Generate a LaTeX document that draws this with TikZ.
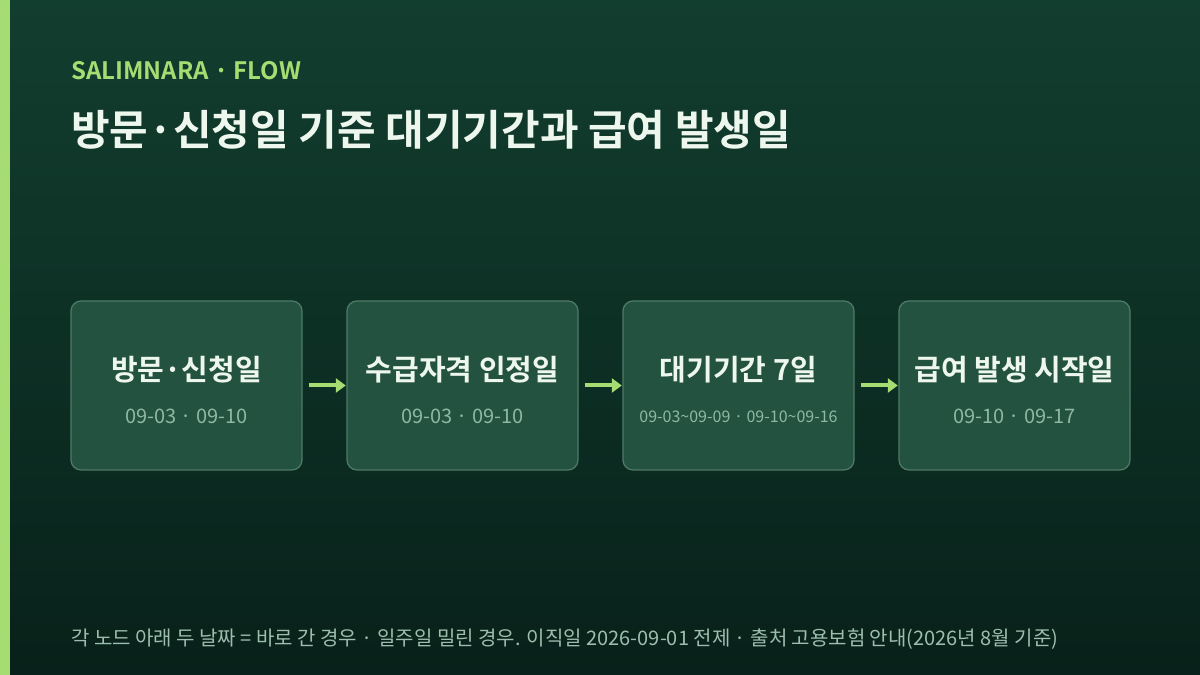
\documentclass[tikz,border=0pt]{standalone}
\usepackage{fontspec}
\usetikzlibrary{positioning,arrows.meta}
\setmainfont{Noto Sans CJK KR}
\newfontfamily\krbold{Noto Sans CJK KR Bold}
\definecolor{SNbgtop}{HTML}{123E2F}
\definecolor{SNbgbot}{HTML}{08211A}
\definecolor{SNlime}{HTML}{A6DD72}
\definecolor{SNbox}{HTML}{245240}
\definecolor{SNedge}{HTML}{4F7B68}
\definecolor{SNwhite}{HTML}{EEF7EE}
\definecolor{SNdate}{HTML}{8FB8A2}
\definecolor{SNnote}{HTML}{9DBEAE}
\newcommand{\boxw}{231}
\newcommand{\boxh}{169}
\newcommand{\tld}{{\char"7E\relax}}
\newcommand{\flowtitle}[2]{%
  \node[boxtitle] (#1t) at ([yshift=15.5]#1.center) {#2};}
\newcommand{\flowdate}[3]{%
  \node[boxdate, font=\fontsize{#3}{#3}\selectfont] (#1d) at ([yshift=-31]#1.center) {#2};}

\begin{document}
\begin{tikzpicture}[x=1pt, y=1pt,
  flowbox/.style={draw=SNedge, line width=1.2pt, fill=SNbox, rounded corners=10pt,
    minimum width=\boxw pt, minimum height=\boxh pt, inner sep=0pt},
  boxtitle/.style={text=SNwhite, font=\krbold\fontsize{29}{29}\selectfont, inner sep=0pt},
  boxdate/.style={text=SNdate, inner sep=0pt},
  flowarrow/.style={draw=SNlime, line width=4pt, -{Triangle[length=10pt, width=14pt]},
    shorten <=6pt, shorten >=0.6pt}]

  % background
  \useasboundingbox (0,0) rectangle (1200,675);
  \shade[top color=SNbgtop, bottom color=SNbgbot] (0,0) rectangle (1200,675);
  \fill[SNlime] (0,0) rectangle (10,675);

  % heading
  \node[anchor=base west, inner sep=0pt, text=SNlime, font=\krbold\fontsize{24}{24}\selectfont]
    (kicker) at (71,675-79.5) {SALIMNARA · FLOW};
  \node[anchor=base west, inner sep=0pt, text=SNwhite, font=\krbold\fontsize{42}{42}\selectfont]
    (title) at (71,675-146) {방문·신청일 기준 대기기간과 급여 발생일};

  % the four steps
  \node[flowbox] (visit) at (71+\boxw/2, 675-385.5) {};
  \node[flowbox, right=43.8 of visit] (qualify) {};
  \node[flowbox, right=43.8 of qualify] (wait) {};
  \node[flowbox, right=43.8 of wait] (pay) {};

  \flowtitle{visit}{방문·신청일}
  \flowdate{visit}{09-03 · 09-10}{20}
  \flowtitle{qualify}{수급자격 인정일}
  \flowdate{qualify}{09-03 · 09-10}{20}
  \flowtitle{wait}{대기기간 7일}
  \flowdate{wait}{09-03\tld 09-09 · 09-10\tld 09-16}{16}
  \flowtitle{pay}{급여 발생 시작일}
  \flowdate{pay}{09-10 · 09-17}{20}

  \draw[flowarrow] (visit) -- (qualify);
  \draw[flowarrow] (qualify) -- (wait);
  \draw[flowarrow] (wait) -- (pay);

  % footnote
  \node[anchor=base west, inner sep=0pt, text=SNnote, font=\fontsize{20}{20}\selectfont]
    (note) at (71,675-645) {각 노드 아래 두 날짜 = 바로 간 경우 · 일주일 밀린 경우. 이직일 2026-09-01 전제 · 출처 고용보험 안내(2026년 8월 기준)};

\end{tikzpicture}
\end{document}
